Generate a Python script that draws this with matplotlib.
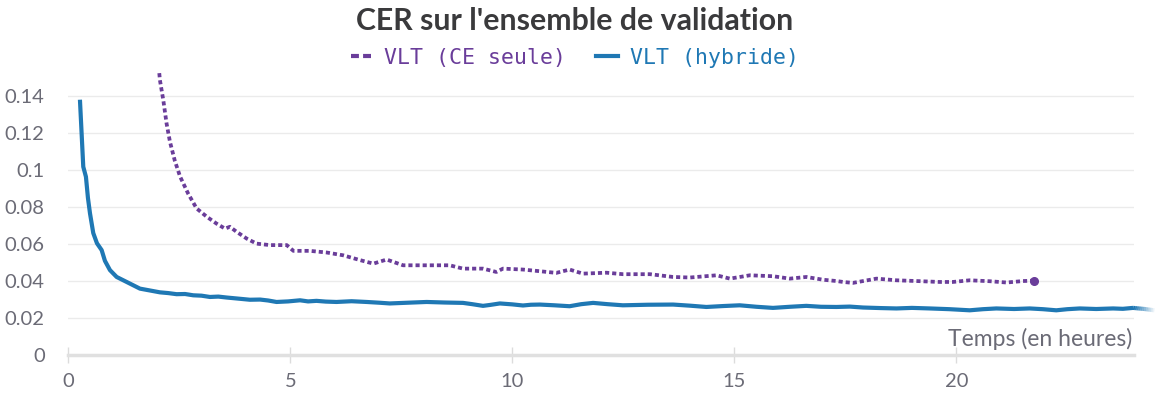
import matplotlib
matplotlib.use("Agg")
import matplotlib.pyplot as plt
from matplotlib.lines import Line2D
import numpy as np

# Validation CER over training time (hours)
hybrid_hours = [0.263, 0.338, 0.398, 0.443, 0.489, 0.563, 0.646, 0.752, 0.826, 0.939,
                1.09, 1.315, 1.614, 1.84, 2.064, 2.25, 2.44, 2.63, 2.814, 3.0,
                3.19, 3.38, 3.566, 3.83, 4.09, 4.32, 4.5, 4.69, 4.95, 5.22,
                5.4, 5.59, 5.8, 6.04, 6.38, 6.72, 7.0, 7.24, 7.65, 8.07,
                8.48, 8.89, 9.1, 9.34, 9.5, 9.72, 10.0, 10.24, 10.42, 10.62,
                10.95, 11.29, 11.55, 11.82, 12.15, 12.49, 13.05, 13.62, 14.0, 14.37,
                14.75, 15.12, 15.5, 15.87, 16.25, 16.62, 16.95, 17.3, 17.6, 17.9,
                18.3, 18.65, 19.0, 19.4, 19.85, 20.3, 20.6, 20.9, 21.3, 21.65,
                21.95, 22.25, 22.5, 22.78, 23.15, 23.53, 23.75, 23.98, 24.24, 24.46]
hybrid_cer = [0.138, 0.1018, 0.0964, 0.085, 0.0767, 0.066, 0.0605, 0.0568, 0.051, 0.046,
              0.0423, 0.0396, 0.036, 0.035, 0.034, 0.0336, 0.033, 0.0331, 0.0324, 0.0322,
              0.0315, 0.0317, 0.0312, 0.0306, 0.0300, 0.0301, 0.0296, 0.0288, 0.0291, 0.0297,
              0.0291, 0.0294, 0.0290, 0.0288, 0.0292, 0.0288, 0.0284, 0.0280, 0.0284, 0.0288,
              0.0285, 0.0283, 0.0276, 0.0267, 0.0272, 0.0280, 0.0275, 0.0269, 0.0273, 0.0274,
              0.0270, 0.0265, 0.0276, 0.0283, 0.0276, 0.0270, 0.0273, 0.0274, 0.0268, 0.0261,
              0.0266, 0.0270, 0.0262, 0.0256, 0.0262, 0.0267, 0.0262, 0.0261, 0.0263, 0.0258,
              0.0255, 0.0253, 0.0256, 0.0253, 0.0249, 0.0243, 0.0249, 0.0253, 0.0250, 0.0253,
              0.0249, 0.0243, 0.0249, 0.0253, 0.0250, 0.0253, 0.0251, 0.0256, 0.0250, 0.0243]

ce_hours = [2.02, 2.064, 2.14, 2.215, 2.29, 2.40, 2.52, 2.70, 2.89, 3.12,
            3.34, 3.53, 3.64, 3.79, 4.02, 4.24, 4.54, 4.92, 5.07, 5.44,
            5.82, 6.19, 6.57, 6.87, 7.17, 7.54, 8.07, 8.59, 8.89, 9.34,
            9.64, 9.79, 10.24, 10.62, 10.99, 11.29, 11.59, 12.12, 12.49, 13.10,
            13.62, 14.0, 14.6, 14.9, 15.35, 15.87, 16.25, 16.62, 17.0, 17.3,
            17.45, 17.67, 18.2, 18.65, 19.1, 19.62, 19.92, 20.3, 20.75, 21.13,
            21.5, 21.74]
ce_cer = [0.160, 0.1486, 0.1378, 0.125, 0.1153, 0.105, 0.0964, 0.0873, 0.0793, 0.0748,
          0.0711, 0.0684, 0.0694, 0.0667, 0.0630, 0.0603, 0.0595, 0.0595, 0.0564, 0.0564,
          0.0555, 0.0540, 0.0514, 0.0495, 0.0517, 0.0486, 0.0486, 0.0486, 0.0468, 0.0468,
          0.0450, 0.0468, 0.0463, 0.0454, 0.0445, 0.0463, 0.0441, 0.0446, 0.0438, 0.0438,
          0.0423, 0.0420, 0.0432, 0.0414, 0.0432, 0.0427, 0.0414, 0.0423, 0.0408, 0.0401,
          0.0396, 0.0391, 0.0414, 0.0405, 0.0401, 0.0396, 0.0396, 0.0405, 0.0400, 0.0393,
          0.0401, 0.0403]

series_labels = ["VLT (CE seule)", "VLT (hybride)"]
x_ticks = [0, 5, 10, 15, 20]
y_ticks = [0, 0.02, 0.04, 0.06, 0.08, 0.1, 0.12, 0.14]
y_tick_labels = ["0", "0.02", "0.04", "0.06", "0.08", "0.1", "0.12", "0.14"]

PURPLE = "#6a3d9a"
BLUE = "#1f78b4"
TEXT_GRAY = "#6b6b76"
GRID = "#ebebeb"

plt.rcParams["font.family"] = ["Lato", "DejaVu Sans"]

fig = plt.figure(figsize=(11.55, 3.94), dpi=100)
ax = fig.add_axes([0.0591, 0.0982, 0.9227, 0.7216])
x_max = 24.0
ax.set_xlim(0, x_max)
ax.set_ylim(0, 0.1535)

# light horizontal grid
for yv in y_ticks[1:]:
    ax.axhline(yv, color=GRID, lw=1.0, zorder=0)

for side in ["top", "right", "left"]:
    ax.spines[side].set_visible(False)
ax.spines["bottom"].set_color("#e0e0e0")
ax.spines["bottom"].set_linewidth(2.5)

ax.set_xticks(x_ticks)
ax.set_xticklabels([str(t) for t in x_ticks])
ax.set_yticks(y_ticks)
ax.set_yticklabels(y_tick_labels)
ax.tick_params(axis="x", direction="inout", length=12, width=1, color="#dcdcdc",
               labelsize=14.5, labelcolor=TEXT_GRAY, pad=7)
ax.tick_params(axis="y", length=0, labelsize=14.5, labelcolor=TEXT_GRAY, pad=17)

# CE-only run (dotted)
ax.plot(ce_hours, ce_cer, color=PURPLE, lw=2.7, linestyle=(0, (1.1, 0.8)),
        solid_capstyle="butt", dash_capstyle="butt", zorder=3)
ax.plot([ce_hours[-1]], [ce_cer[-1]], "o", color=PURPLE, ms=5.5, zorder=4)

# hybrid run (solid), with a fading tail past the right edge
hx = np.array(hybrid_hours)
hy = np.array(hybrid_cer)
inside = hx <= x_max
ax.plot(hx[inside], hy[inside], color=BLUE, lw=3.0, solid_capstyle="butt",
        solid_joinstyle="round", zorder=3)
tail_x = np.concatenate([[hx[inside][-1]], hx[~inside]])
tail_y = np.concatenate([[hy[inside][-1]], hy[~inside]])
n_fade = 12
fx = np.interp(np.linspace(0, 1, n_fade + 1), np.linspace(0, 1, len(tail_x)), tail_x)
fy = np.interp(fx, tail_x, tail_y)
for i in range(n_fade):
    ax.plot(fx[i:i + 2], fy[i:i + 2], color=BLUE, lw=3.0, alpha=1 - i / n_fade,
            solid_capstyle="butt", clip_on=False, zorder=3)

ax.text(0.998, 0.02, "Temps (en heures)", transform=ax.transAxes, ha="right",
        va="bottom", fontsize=16.5, color=TEXT_GRAY)

fig.text(0.4975, 0.947, "CER sur l'ensemble de validation", ha="center", va="center",
         fontsize=21.8, fontweight="bold", color="#3a3a3c")

handles = [Line2D([], [], color=PURPLE, lw=3.0, linestyle=(0, (1.9, 1.0))),
           Line2D([], [], color=BLUE, lw=3.0)]
leg = fig.legend(handles, series_labels, loc="center", bbox_to_anchor=(0.4975, 0.853),
                 ncol=2, frameon=False, handlelength=1.0, handletextpad=0.55,
                 columnspacing=1.4, prop={"family": "DejaVu Sans Mono", "size": 15.5})
for txt, col in zip(leg.get_texts(), [PURPLE, BLUE]):
    txt.set_color(col)

fig.savefig("out.png", dpi=100)
